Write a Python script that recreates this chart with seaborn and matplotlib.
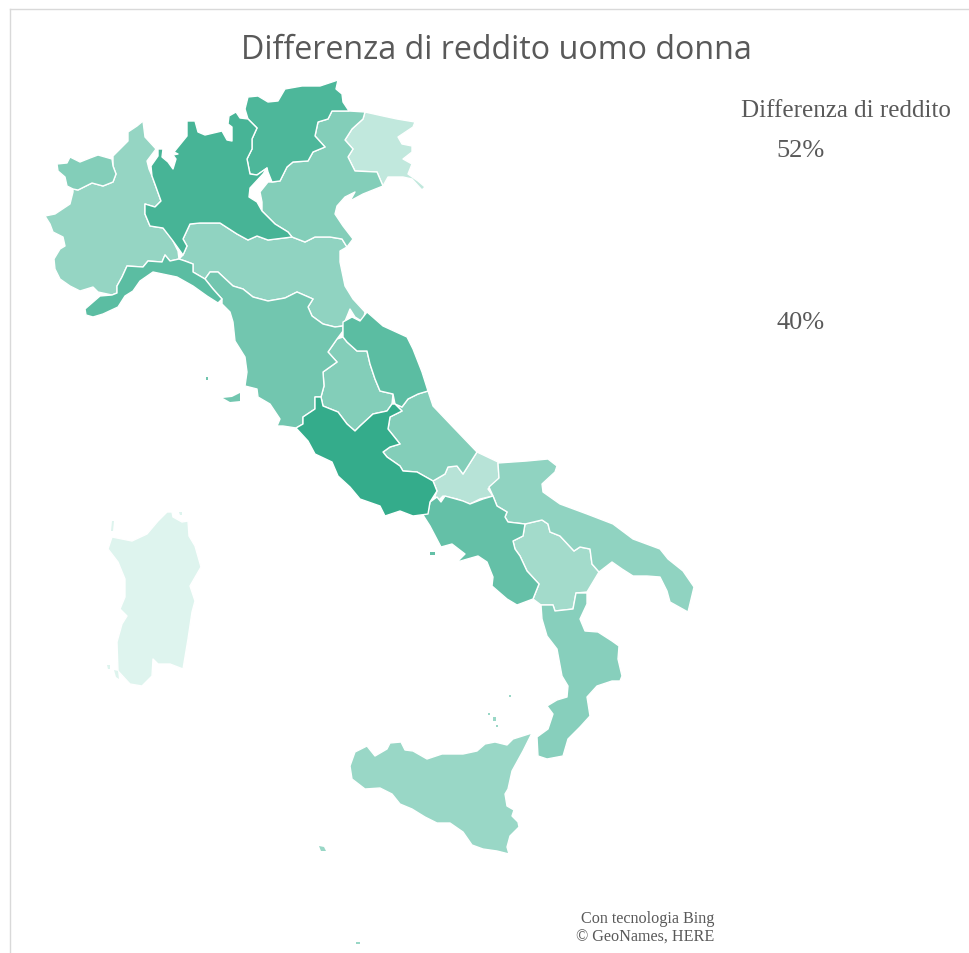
import matplotlib
matplotlib.use("Agg")
import matplotlib.pyplot as plt
from matplotlib.collections import PolyCollection
from matplotlib.colors import Normalize
import seaborn as sns

# Income gap per region (percent)
lazio_gap = 52.0
lombardia_gap = 50.6
trentino_gap = 50.2
marche_gap = 49.2
liguria_gap = 49.2
campania_gap = 48.6
toscana_gap = 47.6
veneto_gap = 46.4
umbria_gap = 46.4
abruzzo_gap = 46.4
aosta_gap = 46.4
calabria_gap = 46.1
emilia_gap = 45.5
puglia_gap = 45.5
piemonte_gap = 45.2
sicilia_gap = 44.9
basilicata_gap = 44.2
molise_gap = 42.8
friuli_gap = 42.1
sardegna_gap = 40.0

# Region outlines, in map units
piemonte = [(143,122),(145,138),(156,150),(147,162),(149,170),(152,177),(156,188),(161,202),(155,208),(145,205),(145,215),(150,227),(163,229),(172,240),(178,252),(179,260),(170,262),(165,256),(162,263),(148,262),(143,268),(127,267),(122,278),(117,287),(117,294),(112,296),(98,293),(93,288),(80,292),(70,287),(60,280),(55,270),(54,260),(60,250),(65,247),(63,238),(53,233),(50,225),(45,217),(55,215),(70,205),(73,193),(73,190),(78,191),(92,184),(103,187),(113,183),(116,175),(113,167),(113,157),(122,148),(128,142),(128,133),(137,127)]
aosta = [(73,190),(78,191),(92,184),(103,187),(113,183),(116,175),(113,167),(112,160),(98,156),(90,159),(80,163),(70,158),(67,164),(57,165),(58,172),(65,178),(67,187)]
lombardia = [(158,150),(163,150),(162,158),(168,163),(173,170),(176,160),(173,156),(178,155),(174,153),(187,137),(187,122),(195,122),(198,133),(205,136),(222,132),(227,141),(232,142),(232,128),(228,125),(229,117),(236,113),(240,119),(248,120),(257,129),(252,140),(252,150),(247,160),(250,175),(257,176),(267,169),(263,175),(250,189),(249,198),(257,203),(262,212),(275,225),(288,233),(292,238),(268,241),(257,237),(248,241),(237,235),(220,224),(200,224),(190,225),(183,240),(187,247),(183,256),(173,242),(163,229),(150,227),(145,215),(145,205),(155,208),(161,202),(156,188),(152,177),(151,167),(158,157)]
trentino = [(248,98),(258,97),(268,103),(278,102),(285,90),(302,87),(320,87),(338,81),(336,90),(342,95),(343,103),(349,112),(332,112),(328,120),(318,123),(315,137),(325,148),(313,153),(308,162),(293,163),(287,168),(280,182),(272,183),(268,173),(267,169),(257,176),(250,175),(247,160),(252,150),(252,140),(257,129),(248,120),(245,110)]
veneto = [(349,112),(365,113),(363,120),(352,130),(345,141),(353,150),(348,158),(355,172),(377,173),(383,187),(363,195),(350,202),(355,193),(345,198),(337,207),(335,215),(343,227),(353,240),(347,248),(342,240),(330,238),(315,238),(305,243),(292,238),(288,233),(275,225),(262,212),(262,203),(260,193),(268,183),(272,183),(280,182),(287,168),(293,163),(308,162),(313,153),(325,148),(315,137),(318,123),(328,120),(332,112)]
friuli = [(365,113),(383,117),(397,120),(415,123),(413,128),(398,138),(402,145),(412,147),(412,153),(403,160),(412,165),(408,175),(418,182),(425,188),(422,191),(412,180),(403,178),(388,178),(383,187),(377,173),(355,172),(348,158),(353,150),(345,141),(352,130),(363,120)]
emilia = [(190,225),(200,224),(220,224),(237,235),(248,241),(257,237),(268,241),(292,238),(305,243),(315,238),(330,238),(342,240),(347,248),(340,252),(340,263),(345,287),(353,300),(365,313),(363,323),(355,318),(350,310),(348,315),(343,327),(335,328),(323,325),(312,317),(308,308),(313,300),(297,293),(285,299),(268,302),(253,298),(243,290),(233,287),(218,273),(210,273),(205,280),(193,273),(193,265),(185,262),(179,260),(183,256),(187,247),(183,240)]
liguria = [(179,260),(185,262),(193,265),(193,273),(205,280),(213,290),(222,300),(218,304),(207,297),(193,287),(177,278),(153,273),(140,282),(133,292),(125,297),(118,308),(103,315),(93,318),(86,316),(85,310),(100,297),(112,296),(117,294),(117,287),(122,278),(127,267),(143,268),(148,262),(162,263),(165,256),(170,262)]
toscana = [(205,280),(210,273),(218,273),(233,287),(243,290),(253,298),(268,302),(285,299),(297,293),(313,300),(308,308),(312,317),(323,325),(335,328),(343,327),(343,332),(337,340),(328,353),(337,363),(323,373),(324,387),(321,398),(315,398),(315,410),(303,418),(303,425),(296,429),(283,427),(277,427),(280,420),(270,405),(258,398),(257,390),(245,387),(247,373),(245,358),(235,342),(233,323),(230,313),(222,305),(222,300),(213,290)]
umbria = [(343,338),(347,343),(357,352),(367,352),(370,365),(375,380),(380,392),(393,395),(392,405),(387,412),(373,415),(360,427),(355,432),(347,425),(338,413),(323,407),(321,398),(324,387),(323,373),(337,363),(328,353),(337,340)]
marche = [(343,332),(343,323),(352,318),(360,322),(367,313),(383,327),(407,338),(413,350),(422,373),(428,392),(418,395),(408,400),(402,408),(395,405),(393,395),(380,392),(375,380),(370,365),(367,352),(357,352),(347,343),(343,338)]
lazio = [(296,429),(303,425),(303,418),(315,410),(315,398),(321,398),(323,407),(338,413),(347,425),(355,432),(360,427),(373,415),(387,412),(392,405),(395,405),(402,412),(390,418),(388,430),(400,445),(390,448),(383,453),(387,458),(400,467),(403,472),(417,473),(433,482),(437,492),(430,503),(428,515),(413,517),(400,512),(385,517),(380,507),(360,500),(350,488),(338,477),(332,463),(315,455),(308,442)]
abruzzo = [(428,392),(433,407),(453,428),(477,453),(463,475),(457,467),(448,468),(445,475),(433,482),(417,473),(403,472),(400,467),(387,458),(383,453),(390,448),(400,445),(388,430),(390,418),(402,412),(395,405),(402,408),(408,400),(418,395)]
molise = [(477,453),(498,463),(499,480),(488,490),(493,497),(480,500),(470,505),(457,500),(443,497),(437,503),(435,497),(437,492),(433,482),(445,475),(448,468),(457,467),(463,475)]
puglia = [(498,464),(527,462),(548,460),(557,467),(555,473),(542,485),(543,493),(560,505),(587,515),(613,525),(633,540),(660,550),(668,560),(683,572),(694,588),(688,613),(670,603),(667,592),(660,578),(647,577),(633,577),(622,570),(612,563),(599,573),(592,565),(590,550),(580,548),(574,552),(560,537),(550,533),(548,525),(542,521),(525,525),(508,523),(505,518),(507,513),(497,507),(493,497),(489,488),(499,479)]
basilicata = [(525,525),(542,521),(548,525),(550,533),(560,537),(574,552),(580,548),(590,550),(592,565),(599,573),(587,593),(576,594),(573,610),(555,612),(553,606),(541,606),(533,600),(539,585),(527,572),(520,557),(515,550),(513,542),(523,537)]
campania = [(437,498),(441,503),(445,497),(463,502),(470,505),(483,500),(493,497),(497,507),(507,513),(505,518),(508,523),(525,525),(523,537),(513,542),(515,550),(520,557),(527,572),(539,585),(533,600),(517,606),(507,600),(492,587),(493,578),(487,563),(478,557),(457,563),(465,555),(452,545),(441,548),(430,527),(423,516),(428,513),(430,503)]
calabria = [(541,606),(553,606),(555,612),(573,610),(576,594),(587,594),(587,605),(580,620),(585,632),(598,633),(612,642),(619,647),(618,660),(622,677),(620,682),(612,682),(597,687),(587,698),(590,717),(580,728),(568,740),(563,757),(547,760),(538,757),(537,738),(548,730),(553,715),(547,707),(557,701),(567,698),(568,687),(562,677),(557,650),(547,637),(542,620)]
sicilia = [(532,734),(523,752),(512,772),(508,790),(505,795),(507,807),(514,811),(512,817),(518,823),(519,828),(510,837),(507,848),(509,855),(497,852),(483,850),(472,846),(463,833),(450,824),(437,824),(425,818),(412,810),(400,805),(392,795),(380,789),(365,790),(352,780),(350,767),(355,753),(367,747),(375,757),(387,750),(390,744),(401,743),(405,751),(413,752),(427,760),(442,755),(463,755),(477,752),(485,745),(495,743),(507,746),(513,740)]
sardegna = [(167,513),(172,513),(173,518),(182,523),(188,522),(189,537),(195,547),(201,568),(190,587),(195,602),(192,613),(188,640),(183,670),(170,665),(158,665),(153,660),(152,677),(142,687),(130,685),(118,672),(117,643),(122,625),(127,617),(120,610),(125,598),(125,580),(118,563),(108,550),(112,538),(132,542),(147,535),(158,522)]

# Small islands, filled without a border so they stay visible
elba = [(223,399),(232,398),(240,394),(240,402),(230,403)]
giglio = [(206,378),(208,378),(208,381),(206,381)]
ischia = [(430,553),(435,553),(435,556),(430,556)]
pantelleria = [(319,847),(324,848),(326,852),(321,852)]
lipari = [(493,718),(496,718),(496,722),(493,722)]
vulcano = [(496,726),(498,726),(498,728),(496,728)]
salina = [(488,714),(490,714),(490,716),(488,716)]
stromboli = [(509,696),(511,696),(511,698),(509,698)]
lampedusa = [(356,943),(360,943),(360,945),(356,945)]
sant_antioco = [(114,671),(118,672),(119,680),(116,678)]
san_pietro = [(107,666),(110,666),(110,670),(108,670)]
asinara = [(112,522),(114,522),(113,532),(111,532)]
maddalena = [(179,513),(182,513),(182,516),(180,516)]

outlines = [sardegna, friuli, molise, basilicata, sicilia,
            piemonte, puglia, emilia, calabria, aosta, abruzzo, umbria, veneto, toscana,
            campania, marche, liguria, trentino, lombardia, lazio]
gaps = [sardegna_gap, friuli_gap, molise_gap, basilicata_gap, sicilia_gap,
        piemonte_gap, puglia_gap, emilia_gap, calabria_gap, aosta_gap, abruzzo_gap, umbria_gap, veneto_gap, toscana_gap,
        campania_gap, marche_gap, liguria_gap, trentino_gap, lombardia_gap, lazio_gap]
islands = [elba, giglio, ischia, pantelleria, lipari, vulcano, salina, stromboli,
           lampedusa, sant_antioco, san_pietro, asinara, maddalena]
island_gaps = [toscana_gap, toscana_gap, campania_gap, sicilia_gap, sicilia_gap, sicilia_gap, sicilia_gap, sicilia_gap,
               sicilia_gap, sardegna_gap, sardegna_gap, sardegna_gap, sardegna_gap]

title_text = "Differenza di reddito uomo donna"
legend_title = "Differenza di reddito"
legend_max = "52%"
legend_min = "40%"
credit_lines = ["Con tecnologia Bing", "© GeoNames, HERE"]

sns.set_theme(style="white")
green_scale = sns.blend_palette(["#DEF4EE", "#34AC8B"], as_cmap=True)

fig = plt.figure(figsize=(9.70, 9.54), dpi=100, facecolor="white")
ax = fig.add_axes([10 / 970, 0, 960 / 970, 944 / 954])
ax.set_xlim(10, 970)
ax.set_ylim(954, 10)
ax.set_xticks([])
ax.set_yticks([])
for side in ("right", "bottom"):
    ax.spines[side].set_visible(False)
for side in ("left", "top"):
    ax.spines[side].set_color("#D9D9D9")
    ax.spines[side].set_linewidth(1.0)

scale = Normalize(40, 52)
ax.add_collection(PolyCollection(outlines, array=gaps, cmap=green_scale, norm=scale,
                                 edgecolors="white", linewidths=1.0))
ax.add_collection(PolyCollection(islands, array=island_gaps, cmap=green_scale, norm=scale,
                                 linewidths=0))

ax.text(496, 51, title_text, ha="center", va="center", fontsize=23.2,
        family="Open Sans", color="#595959")
serif = "Liberation Serif"
ax.text(846, 111, legend_title, ha="center", va="center", fontsize=18,
        family=serif, color="#595959")
ax.text(801, 151, legend_max, ha="center", va="center", fontsize=19,
        family=serif, color="#595959")
ax.text(801, 323, legend_min, ha="center", va="center", fontsize=19,
        family=serif, color="#595959")
ax.text(714, 919, credit_lines[0], ha="right", va="center", fontsize=11.6,
        family=serif, color="#595959")
ax.text(714, 938, credit_lines[1], ha="right", va="center", fontsize=11.6,
        family=serif, color="#595959")

fig.savefig("out.png", dpi=100)
